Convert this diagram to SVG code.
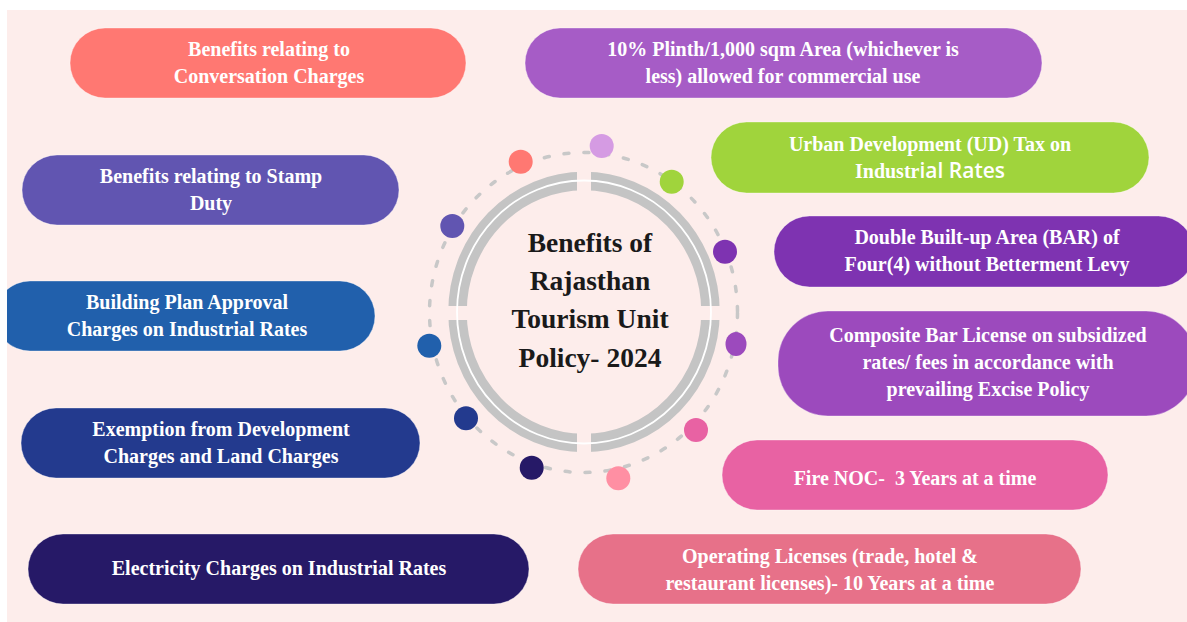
<svg xmlns="http://www.w3.org/2000/svg" width="1187" height="622" viewBox="0 0 1187 622">
  <style>
    .pill-text { font-family: "Liberation Serif", "Times New Roman", serif; font-weight: bold; font-size: 20px; fill: #ffffff; text-anchor: middle; }
    .sans { font-family: "Open Sans", "Liberation Sans", sans-serif; font-weight: 600; font-size: 21px; }
    .title { font-family: "Liberation Serif", "Times New Roman", serif; font-weight: bold; font-size: 27.5px; fill: #1a1a1a; text-anchor: middle; }
    .pill { stroke: #ffffff; stroke-opacity: 0.35; stroke-width: 1; }
    .dash { fill: none; stroke: #c8c8c8; stroke-width: 3.5; stroke-linecap: round; stroke-dasharray: 5 15; }
  </style>
  <defs>
    <clipPath id="bgclip"><rect x="7" y="10" width="1180" height="612"/></clipPath>
    <mask id="gaps">
      <rect x="0" y="0" width="1187" height="622" fill="#fff"/>
      <rect x="577" y="0" width="14" height="622" fill="#000"/>
      <rect x="0" y="306" width="1187" height="14" fill="#000"/>
    </mask>
  </defs>

  <rect x="0" y="0" width="1187" height="622" fill="#ffffff"/>
  <rect x="7" y="10" width="1180" height="612" fill="#fdedeb"/>

  <!-- central hub -->
  <g id="hub">
    <ellipse class="dash" cx="583.5" cy="312.5" rx="154" ry="160"/>
    <ellipse cx="584" cy="312" rx="126.5" ry="131" fill="none" stroke="#c4c4c4" stroke-width="18.5" mask="url(#gaps)"/>
    <ellipse cx="584" cy="312" rx="127" ry="131.5" fill="none" stroke="#ffffff" stroke-width="1.8"/>
    <text class="title" x="590" y="252">Benefits of</text>
    <text class="title" x="590" y="290">Rajasthan</text>
    <text class="title" x="590" y="328">Tourism Unit</text>
    <text class="title" x="590" y="367">Policy- 2024</text>
  </g>

  <g id="connectors">
    <circle cx="601.7" cy="146" r="12" fill="#d59be3"/>
    <circle cx="520.7" cy="161.7" r="12" fill="#ff7872"/>
    <circle cx="671.7" cy="181.7" r="12" fill="#a0d43c"/>
    <circle cx="452.3" cy="226" r="12" fill="#6155b1"/>
    <circle cx="725" cy="251.7" r="12" fill="#7e33b1"/>
    <ellipse cx="736" cy="344" rx="10.5" ry="12" fill="#9c4abd"/>
    <circle cx="429.3" cy="345.7" r="12" fill="#2160ac"/>
    <circle cx="466" cy="418.3" r="12" fill="#233a8e"/>
    <circle cx="696" cy="430" r="12" fill="#e862a3"/>
    <circle cx="531.7" cy="467.7" r="12" fill="#261967"/>
    <circle cx="618.3" cy="478.3" r="12" fill="#ff8fa3"/>
  </g>

  <g id="n1">
    <rect class="pill" x="70" y="28" width="396" height="70" rx="35" fill="#ff7872"/>
    <text class="pill-text" x="269" y="56">Benefits relating to</text>
    <text class="pill-text" x="269" y="83">Conversation Charges</text>
  </g>
  <g id="n2">
    <rect class="pill" x="525" y="28" width="517" height="70" rx="35" fill="#a65cc6"/>
    <text class="pill-text" x="783" y="56">10% Plinth/1,000 sqm Area (whichever is</text>
    <text class="pill-text" x="783" y="83">less) allowed for commercial use</text>
  </g>
  <g id="n3">
    <rect class="pill" x="22" y="155" width="377" height="70" rx="35" fill="#6155b1"/>
    <text class="pill-text" x="211" y="183">Benefits relating to Stamp</text>
    <text class="pill-text" x="211" y="210">Duty</text>
  </g>
  <g id="n4">
    <rect class="pill" x="711" y="122" width="438" height="71" rx="35.5" fill="#a0d43c"/>
    <text class="pill-text" x="930" y="151">Urban Development (UD) Tax on</text>
    <text class="pill-text" x="930" y="178">Industr<tspan class="sans">ial Rates</tspan></text>
  </g>
  <g id="n5">
    <rect class="pill" x="774" y="216" width="420" height="71" rx="35.5" fill="#7e33b1"/>
    <text class="pill-text" x="987" y="244">Double Built-up Area (BAR) of</text>
    <text class="pill-text" x="987" y="271">Four(4) without Betterment Levy</text>
  </g>
  <g id="n6">
    <rect class="pill" x="778" y="311" width="418" height="105" rx="50" fill="#9c4abd"/>
    <text class="pill-text" x="988" y="342">Composite Bar License on subsidized</text>
    <text class="pill-text" x="988" y="369">rates/ fees in accordance with</text>
    <text class="pill-text" x="988" y="396">prevailing Excise Policy</text>
  </g>
  <g id="n7" clip-path="url(#bgclip)">
    <rect class="pill" x="-5" y="281" width="380" height="70" rx="35" fill="#2160ac"/>
    <text class="pill-text" x="187" y="309">Building Plan Approval</text>
    <text class="pill-text" x="187" y="336">Charges on Industrial Rates</text>
  </g>
  <g id="n8">
    <rect class="pill" x="21" y="408" width="399" height="70" rx="35" fill="#233a8e"/>
    <text class="pill-text" x="221" y="436">Exemption from Development</text>
    <text class="pill-text" x="221" y="463">Charges and Land Charges</text>
  </g>
  <g id="n9">
    <rect class="pill" x="722" y="440" width="386" height="70" rx="35" fill="#e862a3"/>
    <text class="pill-text" x="915" y="485" style="white-space:pre">Fire NOC-  3 Years at a time</text>
  </g>
  <g id="n10">
    <rect class="pill" x="28" y="534" width="501" height="70" rx="35" fill="#261967"/>
    <text class="pill-text" x="279" y="575">Electricity Charges on Industrial Rates</text>
  </g>
  <g id="n11">
    <rect class="pill" x="578" y="534" width="503" height="70" rx="35" fill="#e77189"/>
    <text class="pill-text" x="830" y="563">Operating Licenses (trade, hotel &amp;</text>
    <text class="pill-text" x="830" y="590">restaurant licenses)- 10 Years at a time</text>
  </g>
</svg>
